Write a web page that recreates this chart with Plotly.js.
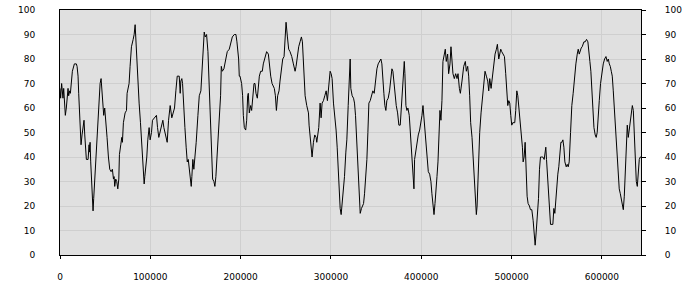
<!DOCTYPE html>
<html><head><meta charset="utf-8">
<script src="https://cdn.plot.ly/plotly-3.0.1.min.js"></script>
<style>html,body{margin:0;padding:0;background:#fff}#chart{width:700px;height:300px}</style>
</head><body><div id="chart"></div>
<script>
var xValues = [0,700,1800,3300,4100,5200,5900,7000,8100,8900,9600,10700,11500,12600,13700,15900,18100,18900,20000,20700,21800,22600,23300,24400,25500,26600,27400,28500,29200,31100,32200,32500,33300,34000,35100,35900,36600,37300,38400,39600,40700,41400,42500,43300,44400,45500,46200,47700,48400,49500,50600,52100,53600,55100,56600,58000,59200,59900,60600,61700,62800,64000,65100,65800,67300,68400,69100,70200,72100,73600,74300,75400,76500,77600,79100,81000,82100,83200,83900,85000,86500,87600,89100,90200,91300,92100,93200,93900,95000,96100,97200,98700,99800,101300,102400,104300,106800,108000,109400,111300,113900,115000,116500,118700,120200,122000,123800,125300,126800,128300,129800,132000,133100,133800,134900,135700,136400,138300,139700,140900,142000,142700,144600,145300,146000,147100,148200,149400,150800,152700,154200,156000,157500,158600,159700,160800,162300,163800,164900,165600,166400,167100,168200,169000,170400,171500,172600,173400,174500,175600,176700,177800,178600,179700,181500,183400,185200,187400,189300,190800,193000,194800,195900,197800,198500,
199300,201100,202200,203000,204100,205600,206700,207800,208500,209600,211100,212200,213300,214800,215900,217000,218500,219600,220700,222200,224000,225100,227000,228800,230700,231800,233300,234800,236200,237300,238500,239600,241000,242500,243600,245100,246600,248100,249500,250300,251800,253200,254700,256600,258400,260300,261400,262900,264300,265800,267300,268400,269500,270300,271400,273200,275100,275800,276900,278000,279100,280600,282100,283600,284300,285400,286500,288000,289100,290200,291700,293200,294700,296100,297600,299100,300200,301300,302800,304300,305700,306900,308000,309100,310200,311300,312400,313900,315000,316500,317600,319100,320200,321300,322000,323500,325000,326100,327200,328300,329400,330500,331600,332400,333800,334900,336100,337200,338300,339800,340900,342000,343500,344900,346400,347900,349400,350900,352300,353800,355300,356400,357500,358600,359700,360800,361900,363400,364900,366000,367500,368600,370100,371200,372300,373800,375200,376700,377800,378900,380400,381200,381900,383000,384100,385200,386700,387800,388900,390000,391100,391900,392600,394100,395200,396700,398200,399600,400800,401900,403000,404100,405200,406300,407800,409300,410700,411800,413000,414100,415200,416300,417400,418500,419600,420700,421800,422900,424000,425200,426600,427700,429200,430300,431800,432900,434000,435100,436600,438100,439600,440700,442200,
443300,445100,447000,448800,449900,451400,452500,453600,454700,456200,457300,458800,459900,461000,461800,462500,463600,464700,466200,467700,469200,470600,472100,473600,474700,475800,477300,478400,480200,481700,483200,484300,485800,486900,488000,489100,490600,492100,493500,495000,495800,496900,498000,499100,500200,501300,502400,503500,504600,505800,506900,508000,509100,510600,512000,512800,513900,515000,516100,517200,518300,519800,520900,522400,523900,525000,526100,527200,528300,529800,530900,532000,533100,534600,536100,537200,537900,538700,539800,540900,542000,543100,545700,546800,547900,549000,550100,551200,552300,553400,554600,555700,556800,557900,559000,560500,561600,562700,563800,565300,566700,568200,569700,571200,572700,573800,574900,576000,577100,578200,580100,581500,583000,584500,585600,586700,587800,588900,590000,591200,592600,593700,594800,596000,597100,598500,600000,601500,603000,604500,605900,607100,608200,609300,610400,611500,612600,613700,614800,615900,617000,618100,619200,620400,621500,622600,623700,624800,625900,627000,628100,629200,630300,631400,632600,633700,634800,635900,637000,638100,639200,640300,641400,642500,643300];
var yValues = [68,64,70,64,68,58,57,60,64,68,65,67,66,70,75,78,78,77,73,66,57,49,45,49,52,55,49,44,39,39,45,42,46,38,31,21,18,23,31,38,45,51,56,64,70,72,69,61,57,60,56,48,40,35,34,35,31,32,28,31,30,27,31,41,45,48,46,54,58,59,66,69,70,77,85,88,90,94,88,80,72,62,54,46,41,33,29,32,35,40,47,52,47,50,55,56,57,52,48,51,55,52,50,46,55,61,56,58,60,67,73,73,66,71,72,70,63,52,44,38,39,36,30,28,32,39,35,39,46,57,65,67,75,84,91,89,90,83,71,61,52,43,36,31,30,28,32,37,43,51,58,65,77,75,76,80,83,84,87,89,90,90,87,80,73,
73,70,65,57,52,51,55,65,66,58,61,59,63,70,70,66,64,69,73,75,75,78,81,83,82,77,73,70,69,68,65,59,65,67,71,77,80,81,95,95,89,84,83,81,78,75,77,82,85,87,89,87,80,73,65,61,58,53,48,44,40,46,49,48,46,49,52,62,56,62,63,65,67,63,69,75,74,72,62,57,51,44,35,27,19,16.5,21,25,32,42,47,61,68,80,68,65,64,62,57,48,40,32,24,17,19,20,21,25,31,39,50,62,63,65,67,66,72,76,78,79,80,78,70,66,61,59,63,64,67,70,76,75,69,64,61,58,53,53,60,66,77,79,74,61,59,60,57,51,45,38,29,27,39,43,46,49,51,54,57,61,56,49,44,38,34,33,30,25,20,16.5,21,25,32,38,47,59,55,63,79,82,84,79,82,74,78,85,78,74,72,74,72,74,68,
66,71,77,79,75,77,73,65,54,48,40,29,21,16.5,20,28,42,50,58,65,72,75,73,71,67,72,68,72,77,82,84,86,80,82,84,83,82,81,74,67,61,63,62,57,53,54,54,54,59,67,65,61,55,50,44,38,40,46,33,24,21,20,18.5,18.5,14,6,4,9,14,23,35,40,40,40,39,42,44,39,32,24,17,12.5,12.5,19,17,24,31,33,36,42,46,46,47,44,38,36,37,36,38,50,61,66,73,78,82,84,82,84,84.5,85,87,87,88,87,84,79,75,68,61,52,49,48,50,55,63,70,75,78,80,81,79,80,78,77,75,73,67,61,53,46,39,33,27,25,23,21,18.5,24,35,43,53,48,51,53,56,61,59,50,43,30,28,33,39,40,40];
var yTicks = [0,10,20,30,40,50,60,70,80,90,100];
var xTicks = [0,100000,200000,300000,400000,500000,600000];

var font = {family:'DejaVu Sans, Verdana, sans-serif', size:9, color:'#000'};
var data = [
  {x:xValues, y:yValues, type:'scatter', mode:'lines', line:{color:'#000', width:1}, hoverinfo:'skip', showlegend:false},
  {x:[], y:[], type:'scatter', mode:'lines', yaxis:'y2', showlegend:false, hoverinfo:'skip'}
];
var layout = {
  width:700, height:300,
  margin:{l:60, r:59, t:10, b:45, pad:0},
  paper_bgcolor:'#ffffff', plot_bgcolor:'#e0e0e0',
  font:font,
  showlegend:false,
  xaxis:{range:[0, xValues[xValues.length-1]], tickvals:xTicks, ticktext:xTicks.map(String),
    showgrid:true, gridcolor:'#cfcfcf', gridwidth:1, zeroline:false,
    showline:true, linecolor:'#000', linewidth:1, mirror:true,
    ticks:'outside', ticklen:3, tickcolor:'#000', ticklabelstandoff:10, tickfont:font, fixedrange:true},
  yaxis:{range:[0,100], tickvals:yTicks, ticktext:yTicks.map(String),
    showgrid:true, gridcolor:'#cfcfcf', gridwidth:1, zeroline:false,
    showline:true, linecolor:'#000', linewidth:1,
    ticks:'', ticklabelstandoff:22, tickfont:font, fixedrange:true},
  yaxis2:{range:[0,100], overlaying:'y', side:'right', tickvals:yTicks, ticktext:yTicks.map(String),
    showgrid:false, zeroline:false, showline:true, linecolor:'#000', linewidth:1,
    ticks:'outside', ticklen:4, tickcolor:'#000', ticklabelstandoff:17, tickfont:font, fixedrange:true}
};
Plotly.newPlot('chart', data, layout, {staticPlot:true, displayModeBar:false});
</script></body></html>
